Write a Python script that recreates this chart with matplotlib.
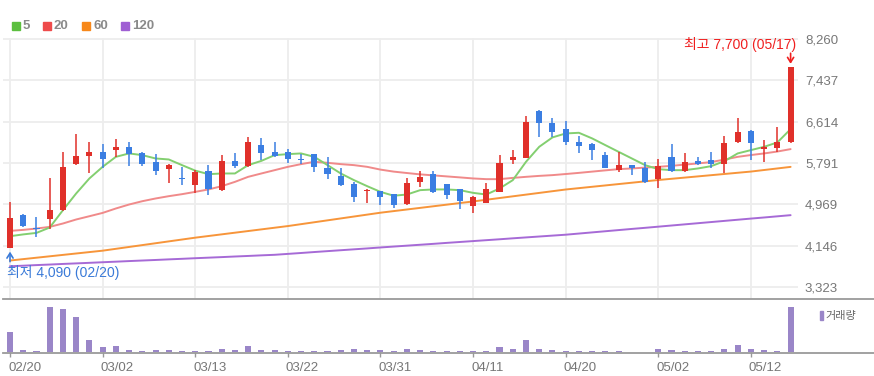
import matplotlib
matplotlib.use("Agg")
import matplotlib.pyplot as plt
from matplotlib.patches import Rectangle
from matplotlib.lines import Line2D
from matplotlib.transforms import ScaledTranslation

# ---------------- data ----------------
dates = ["02/20", "02/21", "02/22", "02/23", "02/24", "02/27", "02/28",
         "03/02", "03/03", "03/06", "03/07", "03/08", "03/09", "03/10",
         "03/13", "03/14", "03/15", "03/16", "03/17", "03/20", "03/21",
         "03/22", "03/23", "03/24", "03/27", "03/28", "03/29", "03/30",
         "03/31", "04/03", "04/04", "04/05", "04/06", "04/07", "04/10",
         "04/11", "04/12", "04/13", "04/14", "04/17", "04/18", "04/19",
         "04/20", "04/21", "04/24", "04/25", "04/26", "04/27", "04/28",
         "05/02", "05/03", "05/04", "05/08", "05/09", "05/10", "05/11",
         "05/12", "05/15", "05/16", "05/17"]

opens = [4090, 4750, 4505, 4680, 4850, 5770, 5930, 6015, 6050, 6115,
         5995, 5815, 5670, 5490, 5350, 5635, 5250, 5835, 5730, 6145,
         6015, 6015, 5880, 5970, 5685, 5535, 5370, 5225, 5230, 5170,
         4970, 5405, 5570, 5365, 5265, 4930, 5005, 5215, 5850, 5900,
         6830, 6580, 6460, 6215, 6160, 5950, 5650, 5750, 5695, 5470,
         5915, 5630, 5840, 5860, 5770, 6200, 6430, 6070, 6095, 6200]
highs = [5020, 4780, 4720, 5490, 6015, 6365, 6215, 6165, 6260, 6215,
         6015, 5970, 5770, 5705, 5650, 5750, 5950, 5995, 6315, 6280,
         6215, 6080, 5970, 5970, 5915, 5685, 5415, 5270, 5240, 5180,
         5485, 5635, 5630, 5370, 5280, 5130, 5385, 5950, 6060, 6725,
         6840, 6680, 6630, 6325, 6180, 6015, 6015, 5760, 5815, 5880,
         6160, 5995, 5915, 6015, 6325, 6690, 6440, 6245, 6510, 7700]
lows = [4090, 4520, 4310, 4480, 4840, 5760, 5585, 5685, 5915, 5730,
        5730, 5550, 5395, 5350, 5185, 5150, 5240, 5685, 5720, 5850,
        5915, 5785, 5770, 5615, 5470, 5330, 5015, 5000, 4950, 4905,
        4960, 5305, 5200, 5070, 4870, 4805, 4995, 5210, 5770, 5890,
        6300, 6300, 6145, 5995, 5850, 5685, 5615, 5550, 5400, 5285,
        5620, 5620, 5750, 5685, 5585, 6190, 5850, 5805, 6015, 6190]
closes = [4700, 4535, 4475, 4850, 5715, 5940, 6015, 5875, 6115, 5980,
          5770, 5630, 5745, 5470, 5615, 5270, 5835, 5730, 6215, 5995,
          5930, 5870, 5850, 5705, 5570, 5350, 5115, 5235, 5115, 4950,
          5395, 5515, 5205, 5150, 5035, 5105, 5265, 5795, 5915, 6610,
          6580, 6410, 6200, 6125, 6050, 5695, 5750, 5685, 5415, 5730,
          5630, 5815, 5770, 5765, 6180, 6410, 6180, 6115, 6200, 7700]

ma5 = [4334, 4370, 4400, 4507, 4852, 5185, 5484, 5715, 5914, 5982,
       5948, 5882, 5862, 5749, 5640, 5569, 5583, 5583, 5749, 5834,
       5948, 5968, 5982, 5914, 5749, 5583, 5450, 5330, 5217, 5140,
       5164, 5251, 5265, 5265, 5251, 5197, 5164, 5284, 5450, 5815,
       6114, 6301, 6380, 6393, 6281, 6147, 6014, 5882, 5749, 5669,
       5649, 5649, 5683, 5729, 5828, 5982, 6048, 6114, 6201, 6466]
ma20 = [4440, 4460, 4487, 4520, 4587, 4667, 4732, 4798, 4886, 4965,
        5031, 5085, 5131, 5171, 5217, 5265, 5330, 5416, 5516, 5583,
        5649, 5715, 5769, 5815, 5795, 5769, 5749, 5715, 5660, 5620,
        5592, 5565, 5545, 5525, 5505, 5484, 5470, 5470, 5495, 5516,
        5535, 5550, 5572, 5595, 5620, 5645, 5669, 5683, 5700, 5715,
        5735, 5760, 5783, 5810, 5860, 5914, 5950, 5982, 6020, 6068]
ma60 = [3850, 3878, 3906, 3934, 3962, 3990, 4018, 4046, 4083, 4120,
        4157, 4194, 4231, 4268, 4305, 4338, 4371, 4404, 4437, 4470,
        4503, 4536, 4574, 4612, 4650, 4688, 4726, 4764, 4802, 4834,
        4866, 4898, 4930, 4962, 4994, 5026, 5060, 5094, 5128, 5162,
        5196, 5230, 5264, 5291, 5318, 5345, 5372, 5399, 5426, 5453,
        5477, 5501, 5525, 5549, 5573, 5597, 5621, 5652, 5683, 5714]
ma120 = [3736, 3747, 3759, 3770, 3782, 3793, 3804, 3816, 3827, 3839,
         3850, 3861, 3873, 3884, 3896, 3907, 3918, 3930, 3941, 3953,
         3964, 3982, 4000, 4019, 4037, 4055, 4073, 4091, 4110, 4128,
         4146, 4164, 4182, 4201, 4219, 4237, 4255, 4273, 4292, 4310,
         4328, 4346, 4364, 4387, 4410, 4433, 4456, 4479, 4501, 4524,
         4547, 4570, 4593, 4616, 4639, 4662, 4685, 4707, 4730, 4753]
volume = [60, 7, 5, 135, 127, 105, 38, 15, 18, 7,
          5, 7, 7, 5, 5, 5, 11, 7, 18, 7,
          7, 5, 5, 5, 5, 7, 11, 7, 7, 5,
          11, 7, 5, 5, 5, 5, 5, 15, 11, 38,
          11, 7, 5, 5, 5, 5, 5, 1, 1, 11,
          7, 5, 5, 5, 11, 23, 11, 7, 5, 135]

price_ticks = [3323, 4146, 4969, 5791, 6614, 7437, 8260]
ma_labels = ["5", "20", "60", "120"]
tick_step = 7

# ---------------- styles ----------------
RED = "#e0302a"
BLUE = "#3b7ee2"
MA_COLORS = ["#83cf70", "#f08a8a", "#f7953a", "#a66ad6"]
LEG_COLORS = ["#5cbf3f", "#ee4b4b", "#f7881a", "#9f5fd3"]
VOL_COLOR = "#9a86c8"
GRID = "#ededed"
TXT = "#777777"
FONT = ["Liberation Sans", "Noto Sans CJK KR"]
plt.rcParams["font.family"] = FONT

W, H = 874, 376
fig = plt.figure(figsize=(W / 100, H / 100), dpi=100)


def fx(px):
    return px / W


def fy(py):
    return 1 - py / H


ax = fig.add_axes([fx(3), fy(299), fx(798) - fx(3), fy(38) - fy(299)])
axv = fig.add_axes([fx(3), fy(352.4), fx(798) - fx(3), fy(299) - fy(352.4)], sharex=ax)

n = len(closes)
xs = list(range(n))

# moving averages
for vals, c in zip([ma120, ma60, ma20, ma5], MA_COLORS[::-1]):
    ax.plot(xs, vals, color=c, lw=1.4, zorder=2, solid_capstyle="round")

# candles
for i in xs:
    o, h, l, c = opens[i], highs[i], lows[i], closes[i]
    col = RED if c >= o else BLUE
    ax.vlines(i, l, h, color=col, lw=1.1, zorder=3)
    body = max(abs(c - o), 22)
    ax.bar(i, body, bottom=min(o, c), width=0.46, color=col, zorder=4, linewidth=0)

ax.set_xlim(-0.53, 59.56)
ax.set_ylim(3084, 8280)
ax.set_yticks(price_ticks)
ax.set_yticklabels([f"{v:,}" for v in price_ticks])
ax.yaxis.tick_right()
ax.tick_params(axis="y", length=0, pad=5, labelsize=9.5, labelcolor=TXT)
ax.tick_params(axis="x", length=0, labelbottom=False)
ax.grid(True, color=GRID, lw=1.3, zorder=0)
for s in ax.spines.values():
    s.set_visible(False)

# high / low annotations
imax = highs.index(max(highs))
imin = lows.index(min(lows))
ax.annotate("", xy=(imax, highs[imax]), xytext=(0, 10), textcoords="offset points",
            arrowprops=dict(arrowstyle="->,head_length=0.35,head_width=0.22",
                            color="#f01e1e", lw=1.2, shrinkA=0, shrinkB=2.4), zorder=6)
ax.annotate(f"최고 {highs[imax]:,} ({dates[imax]})", xy=(imax, highs[imax]),
            xytext=(4.3, 16.5), textcoords="offset points", ha="right", va="center",
            color="#f01e1e", fontsize=10, zorder=6)
ax.annotate("", xy=(imin, lows[imin]), xytext=(0, -9.5), textcoords="offset points",
            arrowprops=dict(arrowstyle="->,head_length=0.35,head_width=0.22",
                            color="#3a7ad8", lw=1.2, shrinkA=0, shrinkB=2.3), zorder=6)
ax.annotate(f"최저 {lows[imin]:,} ({dates[imin]})", xy=(imin, lows[imin]),
            xytext=(-2.4, -17.3), textcoords="offset points", ha="left", va="center",
            color="#3a7ad8", fontsize=10, zorder=6)

# volume
axv.bar(xs, volume, width=0.46, color=VOL_COLOR, linewidth=0)
axv.set_ylim(0, 158)
axv.set_yticks([])
axv.set_xticks(xs[::tick_step])
axv.set_xticklabels(dates[::tick_step])
axv.tick_params(axis="x", length=3.5, width=1, color="#999999", pad=3.5,
                labelsize=9.5, labelcolor=TXT)
shift = ScaledTranslation(-2 / 100, 0, fig.dpi_scale_trans)
for lab in axv.get_xticklabels():
    lab.set_horizontalalignment("left")
    lab.set_transform(lab.get_transform() + shift)
for s in axv.spines.values():
    s.set_visible(False)

# panel separator lines
for py in (299, 353):
    fig.add_artist(Line2D([fx(3), 1], [fy(py), fy(py)], color="#9a9a9a", lw=1.3,
                          transform=fig.transFigure))

# MA legend (top-left)
leg_x = [12, 43, 82, 121]
for x0, lab, c in zip(leg_x, ma_labels, LEG_COLORS):
    fig.add_artist(Rectangle((fx(x0), fy(30)), 8 / W, 8 / H, color=c,
                             transform=fig.transFigure))
    fig.text(fx(x0 + 11), fy(26), lab, fontsize=9.5, fontweight="bold", color="#8a8a8a",
             va="center", ha="left")

# volume legend
fig.add_artist(Rectangle((fx(819.5), fy(320)), 3 / W, 9.5 / H, color=VOL_COLOR,
                         transform=fig.transFigure))
fig.text(fx(825.5), fy(315.5), "거래량", fontsize=8, color="#666666", va="center", ha="left")

fig.savefig("out.png", dpi=100)
